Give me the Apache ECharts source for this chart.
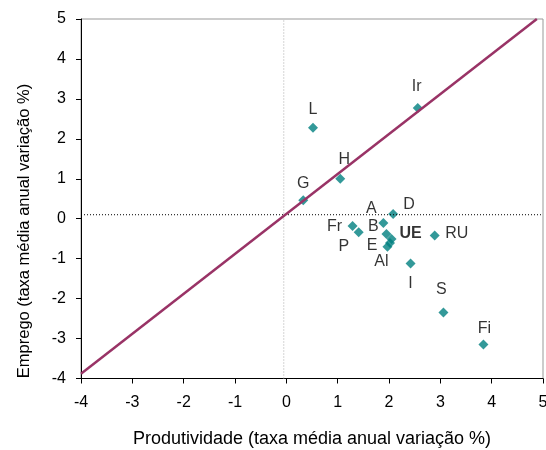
<!DOCTYPE html>
<html><head><meta charset="utf-8">
<script src="https://cdn.jsdelivr.net/npm/echarts@6/dist/echarts.min.js"></script>
<style>html,body{margin:0;padding:0;background:#fff}#c{width:546px;height:450px}</style>
</head><body><div id="c"></div>
<script>
const names = ['Ir','L','H','G','D','A','B','Fr','P','UE','E','Al','RU','I','S','Fi'];
const produtividade = [2.56,0.52,1.05,0.33,2.08,1.89,1.95,1.29,1.41,2.05,2.02,1.97,2.89,2.42,3.06,3.84];
const emprego = [2.77,2.28,1.00,0.46,0.12,-0.11,-0.38,-0.18,-0.34,-0.51,-0.61,-0.70,-0.42,-1.12,-2.35,-3.15];
const diagonalX = [-4, 4.88];
const diagonalY = [-3.88, 5];
const refHx = [-4, 5], refHy = [0.1, 0.1];
const refVx = [-0.05, -0.05], refVy = [-4, 5];
const xTicks = [-4,-3,-2,-1,0,1,2,3,4,5];
const yTicks = [-4,-3,-2,-1,0,1,2,3,4,5];
const xTitle = 'Produtividade (taxa média anual variação %)';
const yTitle = 'Emprego (taxa média anual variação %)';

// label placement (pixel offsets from the marker), presentation only
const labelOffset = {Ir:[-1,-21],L:[0,-18],H:[4,-19],G:[0,-17],D:[16,-9],A:[-12,-15],B:[-13,-7],
  Fr:[-18,1],P:[-15,14],UE:[19,-6],E:[-18,3],Al:[-6,15],RU:[22,-2],I:[0,20],S:[-2,-23],Fi:[1,-16]};

const font = 'Liberation Sans, Arial, sans-serif';
const pts = names.map((n,i)=>({
  name:n, value:[produtividade[i], emprego[i]],
  label:{show:true, position:'inside', offset:labelOffset[n], formatter:n,
    color:'#000', fontSize:16, fontFamily:font,
    fontWeight: n==='UE' ? 'bold' : 'normal'}
}));

const chart = echarts.init(document.getElementById('c'), null, {renderer:'canvas'});
chart.setOption({
  animation:false,
  grid:{left:81, right:3, top:19, bottom:71.5, show:true, borderColor:'#999', borderWidth:1,
    containLabel:false, outerBoundsMode:'none'},
  graphic:[{type:'text', x:24, y:231, rotation:Math.PI/2,
    style:{text:yTitle, fill:'#000', font:'16.5px ' + font, align:'center', verticalAlign:'middle'}}],
  xAxis:{type:'value', min:xTicks[0], max:xTicks[xTicks.length-1], interval:1,
    axisLine:{onZero:false, lineStyle:{color:'#000', width:1}},
    axisTick:{show:true, length:5, lineStyle:{color:'#000'}},
    splitLine:{show:false},
    axisLabel:{color:'#000', fontSize:16, fontFamily:font, margin:16},
    name:xTitle, nameLocation:'middle', nameGap:52,
    nameTextStyle:{color:'#000', fontSize:18, fontFamily:font}},
  yAxis:{type:'value', min:yTicks[0], max:yTicks[yTicks.length-1], interval:1,
    axisLine:{onZero:false, lineStyle:{color:'#000', width:1}},
    axisTick:{show:true, length:5, lineStyle:{color:'#000'}},
    splitLine:{show:false},
    axisLabel:{color:'#000', fontSize:16, fontFamily:font, margin:15}},
  series:[
    {type:'line', data:refVx.map((x,i)=>[x,refVy[i]]), symbol:'none', silent:true,
      lineStyle:{color:'#aaa', width:1, type:[1,2]}},
    {type:'line', data:refHx.map((x,i)=>[x,refHy[i]]), symbol:'none', silent:true,
      lineStyle:{color:'#000', width:1, type:[1,2]}},
    {type:'line', data:diagonalX.map((x,i)=>[x,diagonalY[i]]), symbol:'none', silent:true,
      lineStyle:{color:'#993366', width:2.5}},
    {type:'scatter', data:pts, symbol:'diamond', symbolSize:10,
      itemStyle:{color:'#008080'}}
  ]
});
</script></body></html>
